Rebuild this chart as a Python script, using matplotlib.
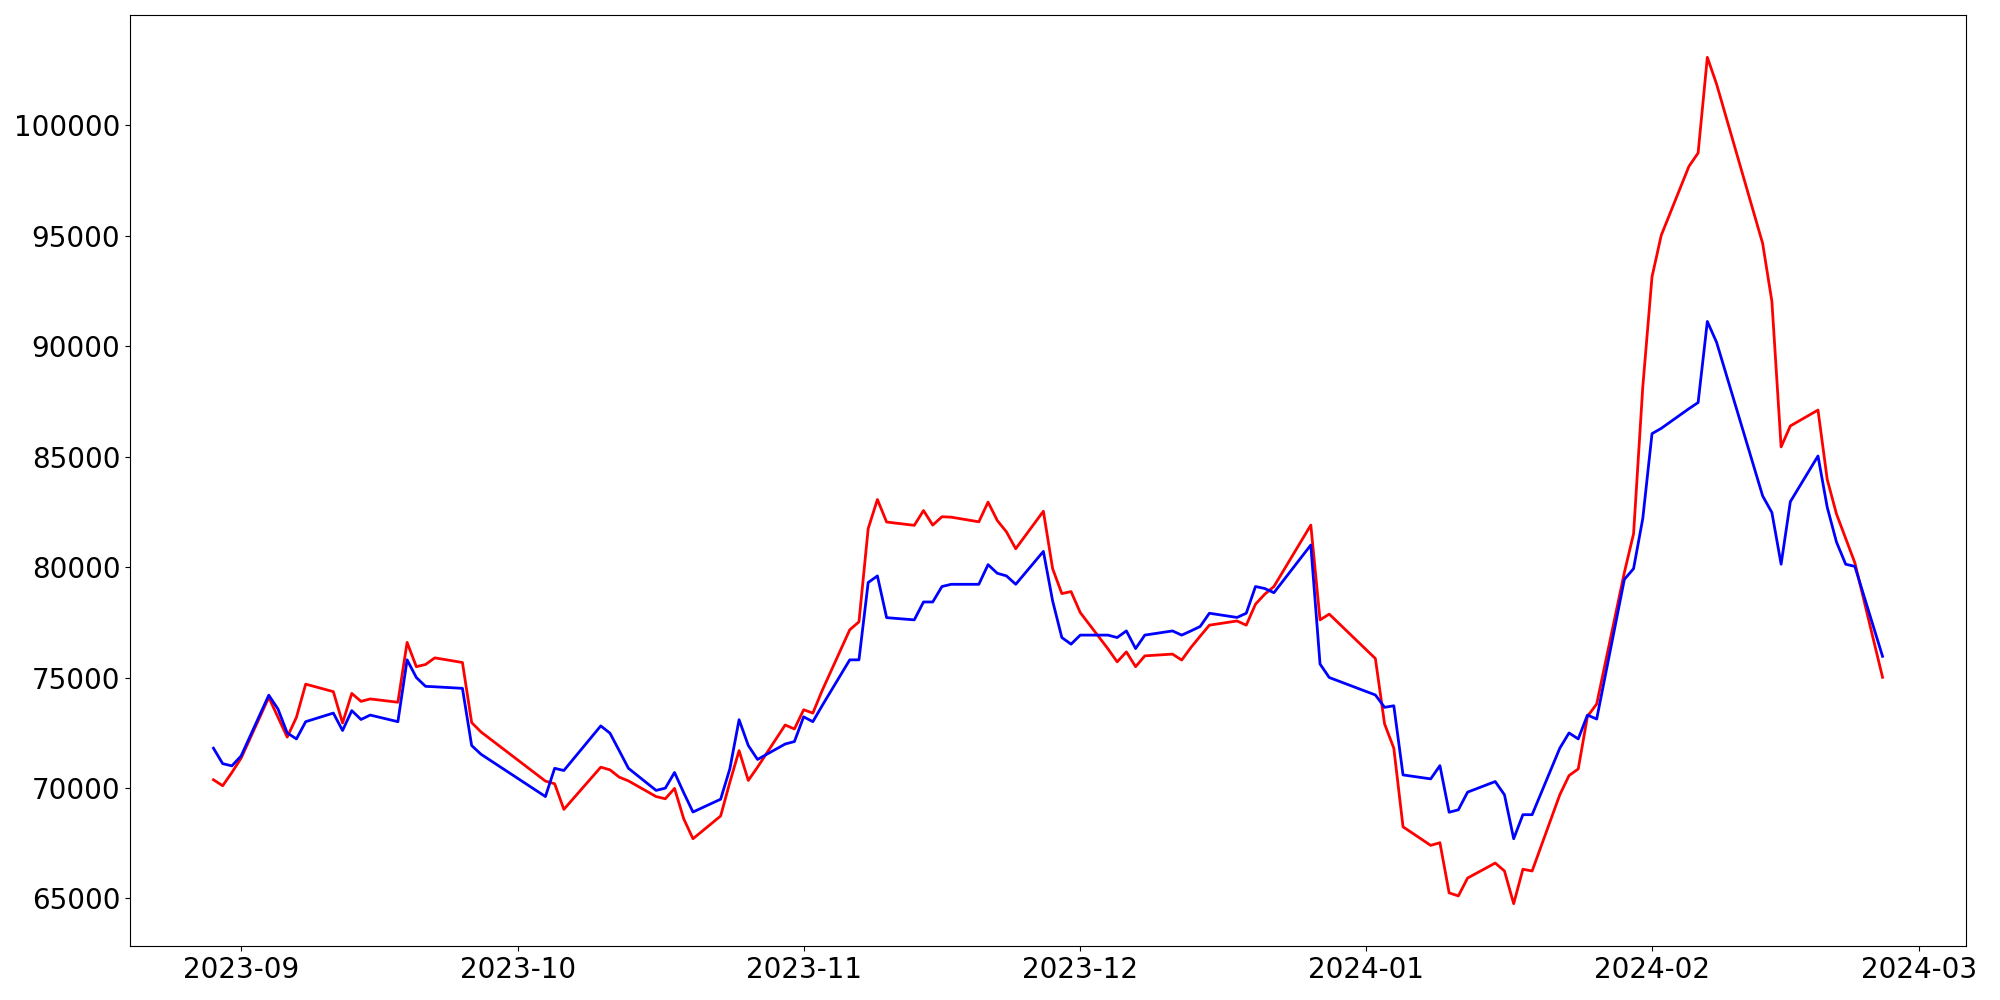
import numpy as np
import pandas as pd
import matplotlib
matplotlib.use("Agg")
import matplotlib.pyplot as plt

# trading days (KRX calendar) Aug 29 2023 .. Feb 26 2024
HOLIDAYS = ['2023-09-28', '2023-09-29', '2023-10-02', '2023-10-03', '2023-10-09',
            '2023-12-25', '2023-12-29', '2024-01-01', '2024-02-09', '2024-02-12']
dates = pd.bdate_range('2023-08-29', '2024-02-26', freq='C', holidays=HOLIDAYS)

# red series
red = [70370, 70100, 70700,
       71350, 74100, 73200, 72300, 73200, 74700, 74360, 72940, 74280, 73920, 74030,
       73880, 76590, 75490, 75590, 75890, 75680, 72960, 72540,
       70310, 70190, 69030, 70940, 70820, 70490, 70320, 69610, 69510, 69980, 68600, 67700,
       68730, 70260, 71690, 70340, 70940, 72850, 72670,
       73540, 73390, 74400, 77160, 77520, 81740, 83060, 82040, 81890, 82560, 81900, 82280, 82260,
       82050, 82940, 82110, 81590, 80830, 82530, 79930, 78800, 78890,
       77940, 76300, 75710, 76160, 75490, 75980, 76060, 75790, 76360, 76870, 77370,
       77560, 77370, 78320, 78770, 79120, 81900, 77610, 77870,
       75860, 72900, 71800, 68240, 67400, 67520, 65250, 65110, 65920,
       66600, 66240, 64760, 66320, 66240, 69690, 70560, 70860, 73240, 73800,
       79750, 81510, 88160,
       93140, 95020, 98140, 98750, 103080, 101870, 94650, 92030, 85440, 86390,
       87110, 83970, 82410, 81300, 80190, 75010]

# blue series
blue = [71800, 71100, 71000,
        71450, 74200, 73570, 72490, 72220, 73000, 73390, 72600, 73500, 73100, 73300,
        73000, 75800, 75000, 74600, 74580, 74510, 71920, 71530,
        69610, 70890, 70790, 72810, 72480, 71690, 70890, 69890, 69990, 70700, 69780, 68910,
        69490, 70870, 73090, 71920, 71290, 71990, 72100,
        73220, 73000, 73720, 75800, 75800, 79300, 79600, 77710, 77610, 78420, 78420, 79120, 79220,
        79220, 80110, 79720, 79600, 79220, 80710, 78470, 76810, 76510,
        76920, 76920, 76810, 77110, 76310, 76920, 77110, 76920, 77110, 77310, 77910,
        77720, 77910, 79120, 79030, 78840, 81000, 75610, 75000,
        74210, 73650, 73720, 70590, 70410, 71010, 68900, 69010, 69810,
        70290, 69690, 67700, 68790, 68790, 71800, 72490, 72220, 73300, 73120,
        79440, 79930, 82200,
        86040, 86280, 87170, 87450, 91120, 90180, 83220, 82470, 80130, 82960,
        85030, 82710, 81140, 80130, 80030, 75960]

fig, ax = plt.subplots(figsize=(20, 10), dpi=100)
ax.plot(dates, red, color='red', linewidth=2)
ax.plot(dates, blue, color='blue', linewidth=2)
ax.tick_params(labelsize=20)
plt.subplots_adjust(left=0.065, right=0.983, top=0.985, bottom=0.054)
plt.savefig('out.png')
